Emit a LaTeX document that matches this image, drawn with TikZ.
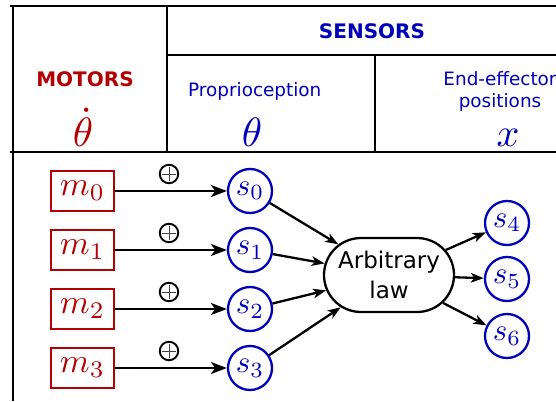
\documentclass[tikz,border=0pt]{standalone}
\usepackage{fontspec}
\newfontfamily\dv{DejaVu Sans}
\usetikzlibrary{arrows.meta,shapes.misc}
\definecolor{myred}{RGB}{180,0,0}
\definecolor{myblue}{RGB}{0,0,185}
\newcommand{\myfs}[2]{\fontsize{#1}{#2}\selectfont}
\newcommand{\Mth}[2]{\scalebox{#1}{$#2$}}
\tikzset{
  grid/.style={line width=2.5pt},
  motor/.style={draw=myred, text=myred, line width=2.2pt, minimum width=63pt, minimum height=40pt, inner sep=0pt},
  sens/.style={circle, draw=myblue, text=myblue, line width=2.3pt, minimum size=44pt, inner sep=0pt},
  arr/.style={line width=2.8pt, -{Stealth[length=16pt,width=12pt,inset=4.5pt]}},
  arrb/.style={line width=2.3pt, -{Stealth[length=13pt,width=9.5pt,inset=3.5pt]}},
  law/.style={rounded rectangle, draw, line width=2.3pt, minimum width=130pt, minimum height=74pt, inner sep=0pt, font=\dv\myfs{23}{30}, align=center},
  plus/.style={circle, draw, line width=1.9pt, minimum size=18.5pt, inner sep=0pt,
    path picture={\draw[line width=0.9pt, black!75] ([xshift=-7pt]path picture bounding box.center) -- ([xshift=7pt]path picture bounding box.center);
                  \draw[line width=0.9pt, black!75] ([yshift=-7pt]path picture bounding box.center) -- ([yshift=7pt]path picture bounding box.center);}},
  head/.style={anchor=base, font=\dv\bfseries\myfs{20}{24}},
  sub/.style={anchor=base, text=myblue, font=\dv\myfs{18.4}{22}},
  big/.style={anchor=base, inner sep=0pt}
}
\begin{document}
\begin{tikzpicture}[x=1pt,y=-1pt]
\useasboundingbox (0,0) rectangle (556,401);
% table frame
\coordinate (tl) at (10,6);
\coordinate (tr) at (556,6);
\coordinate (bl) at (13,401);
\coordinate (lt) at (13,6);
\coordinate (v1t) at (167,6);
\coordinate (v1b) at (167,152);
\coordinate (h2l) at (167,55);
\coordinate (h2r) at (556,55);
\coordinate (v2t) at (375,55);
\coordinate (v2b) at (375,152);
\coordinate (h3l) at (10,152);
\coordinate (h3r) at (556,152);
\draw[grid] (tl) -- (tr);
\draw[grid] (lt) -- (bl);
\draw[grid] (v1t) -- (v1b);
\draw[grid] (h2l) -- (h2r);
\draw[grid] (v2t) -- (v2b);
\draw[grid] (h3l) -- (h3r);
% headers
\node[head, text=myred] (motors) at (85,87) {MOTORS};
\node[big, text=myred] (thdot) at (83,146) {\Mth{4.1}{\dot\theta}};
\node[head, text=myblue] (sensors) at (372,39) {SENSORS};
\node[sub, anchor=base west, inner sep=0pt] (prop) at (188,96) {Proprioception};
\node[big, text=myblue] (th) at (252,146) {\Mth{4.1}{\theta}};
\node[sub] (ee1) at (500,86) {End-effector};
\node[sub] (ee2) at (500,107) {positions};
\node[big, text=myblue] (xx) at (508,146) {\Mth{4.0}{x}};
% motors
\node[motor] (m0) at (82.5,191) {\Mth{3.4}{m_0}};
\node[motor] (m1) at (82.5,250) {\Mth{3.4}{m_1}};
\node[motor] (m2) at (82.5,309) {\Mth{3.4}{m_2}};
\node[motor] (m3) at (82.5,368) {\Mth{3.4}{m_3}};
% sensors
\node[sens] (s0) at (250,191) {\Mth{3.1}{s_0}};
\node[sens] (s1) at (250,250) {\Mth{3.1}{s_1}};
\node[sens] (s2) at (250,309) {\Mth{3.1}{s_2}};
\node[sens] (s3) at (250,368) {\Mth{3.1}{s_3}};
\node[sens] (s4) at (507,223) {\Mth{3.1}{s_4}};
\node[sens] (s5) at (507,279) {\Mth{3.1}{s_5}};
\node[sens] (s6) at (507,336) {\Mth{3.1}{s_6}};
% plus signs
\node[plus] (p0) at (169,174) {};
\node[plus] (p1) at (169,233) {};
\node[plus] (p2) at (169,292) {};
\node[plus] (p3) at (169,351) {};
% law
\node[law] (law) at (389,275) {Arbitrary\\law};
% arrows
\draw[arr] (m0) -- (s0);
\draw[arr] (m1) -- (s1);
\draw[arr] (m2) -- (s2);
\draw[arr] (m3) -- (s3);
\draw[arrb] (s0) -- (law);
\draw[arrb] (s1) -- (law);
\draw[arrb] (s2) -- (law);
\draw[arrb] (s3) -- (law);
\draw[arrb] (law) -- (s4);
\draw[arrb] (law) -- (s5);
\draw[arrb] (law) -- (s6);
\end{tikzpicture}
\end{document}
